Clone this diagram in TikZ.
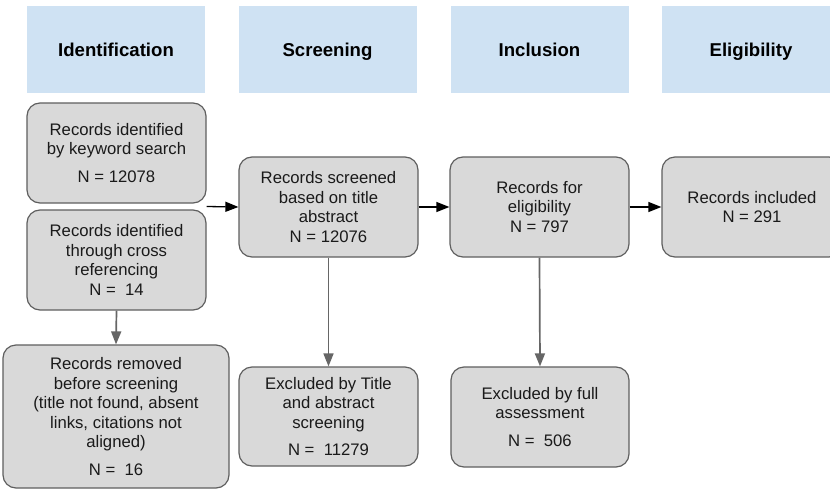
\documentclass[tikz,border=0pt]{standalone}
\usepackage{fontspec}
\setmainfont{Liberation Sans}
\usetikzlibrary{arrows.meta,calc}
\definecolor{hdrfill}{HTML}{CFE2F3}
\definecolor{boxfill}{HTML}{D9D9D9}
\definecolor{boxline}{HTML}{5F5F5F}
\definecolor{grayarrow}{HTML}{666666}
\definecolor{txt}{HTML}{1A1A1A}
\begin{document}
\begin{tikzpicture}[x=1pt,y=-1pt,
  hdr/.style={fill=hdrfill, minimum width=178pt, minimum height=87pt, inner sep=0pt,
    text height=14pt, text depth=0pt,
    text=black, font=\bfseries\fontsize{18.6}{22}\selectfont},
  box/.style={draw=boxline, fill=boxfill, rounded corners=13pt, line width=1.2pt,
    inner sep=0pt, align=center, text=txt, font=\fontsize{16.7}{19.5}\selectfont},
  arr/.style={-{Triangle[length=13pt,width=10pt]}},
  blackarr/.style={arr, draw=black, line width=1.3pt},
  grayarr/.style={arr, draw=grayarrow, line width=1.7pt}]
\useasboundingbox (0,0) rectangle (830,490);
\fill[white] (0,0) rectangle (830,490);
% headers
\node[hdr] (h1) at (116,49.5) {Identification};
\node[hdr] (h2) at (327.5,49.5) {Screening};
\node[hdr] (h3) at (539.5,49.5) {Inclusion};
\node[hdr] (h4) at (751,49.5) {Eligibility};
% boxes
\node[box, minimum width=179pt, minimum height=100pt] (A) at (116.5,153)
  {Records identified\\by keyword search\\[8pt]N = 12078};
\node[box, minimum width=179pt, minimum height=100pt] (B) at (116.5,260)
  {Records identified\\through cross\\referencing\\N = \ 14};
\node[box, minimum width=179pt, minimum height=100pt] (C) at (328.5,207)
  {Records screened\\based on title\\abstract\\N = 12076};
\node[box, minimum width=179pt, minimum height=100pt] (D) at (539.5,207)
  {Records for\\eligibility\\N = 797};
\node[box, minimum width=180pt, minimum height=100pt] (E) at (752,207)
  {Records included\\N = 291};
\node[box, minimum width=226pt, minimum height=143pt] (F) at (116,416.5)
  {Records removed\\before screening\\(title not found, absent\\links, citations not\\aligned)\\[8pt]N = \ 16};
\node[box, minimum width=179pt, minimum height=99pt] (G) at (328.5,416.5)
  {Excluded by Title\\and abstract\\screening\\[8pt]N = \ 11279};
\node[box, minimum width=178pt, minimum height=100pt] (H) at (540,417)
  {Excluded by full\\assessment\\[8pt]N = \ 506};
% connectors
\coordinate (AB) at ($(A.south east)!0.5!(B.north east)$);
\draw[blackarr] (AB) -- (C.west);
\draw[blackarr] (C.east) -- (D.west);
\draw[blackarr] (D.east) -- (E.west);
\draw[grayarr] (B.south) -- (F.north);
\draw[grayarr] (C.south) -- (G.north);
\draw[grayarr] (D.south) -- (H.north);
\end{tikzpicture}
\end{document}
